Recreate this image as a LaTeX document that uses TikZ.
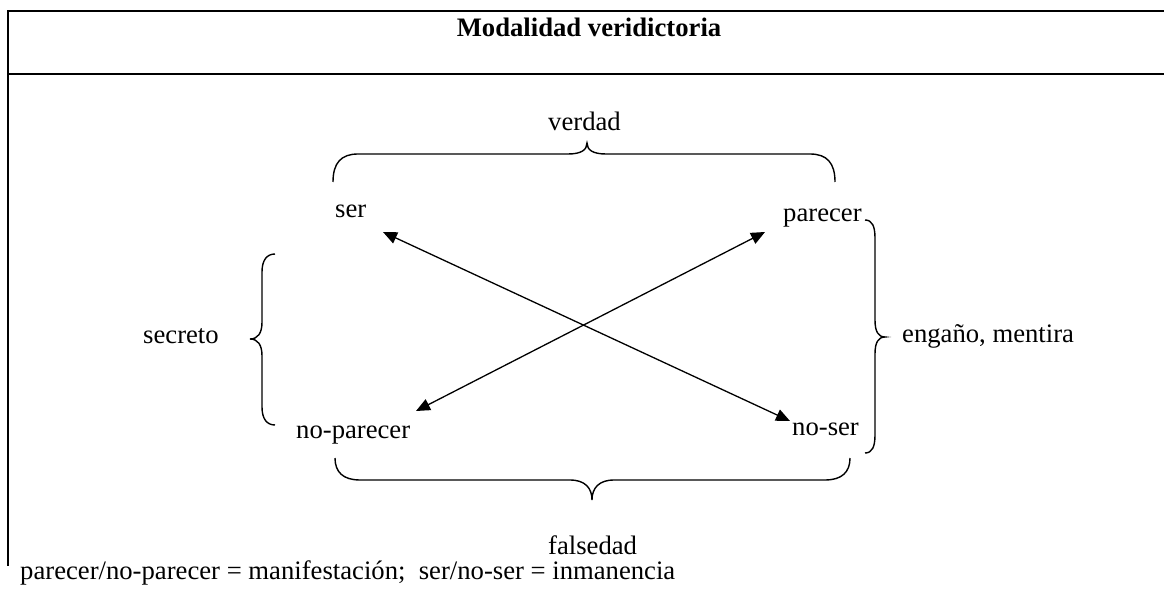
\documentclass[tikz,border=0pt]{standalone}
\usepackage{fontspec}
\setmainfont{Liberation Serif}
\usetikzlibrary{arrows.meta}
\tikzset{
  rule/.style={line width=2pt, line cap=rect},
  bracel/.style={line width=1.4pt},
  arr/.style={line width=1.3pt, {Triangle[length=14pt,width=12pt]}-{Triangle[length=14pt,width=12pt]}},
  lbl/.style={inner sep=0pt, anchor=base west, font=\fontsize{26.67}{32}\selectfont},
}
\begin{document}
\begin{tikzpicture}[x=1pt,y=-1pt]
\useasboundingbox (0,0) rectangle (1164,593);
% table frame
\draw[rule] (1164,11) -- (7.5,11) -- (7.5,565);
\draw[rule] (7.5,74) -- (1164,74);
\node[inner sep=0pt, anchor=base, font=\fontsize{26.67}{32}\selectfont\bfseries] (title) at (589,37) {Modalidad veridictoria};
% labels
\node[lbl] (verdad) at (548,131) {verdad};
\node[lbl] (ser) at (335,218) {ser};
\node[lbl] (parecer) at (783,222) {parecer};
\node[lbl] (secreto) at (143,344) {secreto};
\node[lbl] (engano) at (902,343) {engaño, mentira};
\node[lbl] (noparecer) at (296,438) {no-parecer};
\node[lbl] (noser) at (792,435) {no-ser};
\node[lbl] (falsedad) at (548,554) {falsedad};
\node[lbl] (footer) at (20,579) {parecer/no-parecer = manifestación;\ \ ser/no-ser = inmanencia};
% braces
\draw[bracel] (333,182) .. controls (333,163) and (341,154) .. (358,154) -- (568,154) .. controls (581,154) and (587,150) .. (587,143) .. controls (587,150) and (593,154) .. (606,154) -- (810,154) .. controls (827,154) and (835,163) .. (835,182);
\draw[bracel] (275,254) .. controls (267,254) and (262,260) .. (262,272) -- (262,322) .. controls (262,333) and (258,339) .. (250,339) .. controls (258,339) and (262,345) .. (262,356) -- (262,407) .. controls (262,419) and (267,425) .. (275,425);
\draw[bracel] (865,220) .. controls (872,220) and (875,226) .. (875,238) -- (875,320) .. controls (875,331) and (878,337) .. (885,337) .. controls (878,337) and (875,343) .. (875,354) -- (875,435) .. controls (875,447) and (872,453) .. (865,453);
\draw[bracel] (335,458) .. controls (335,472) and (343,480) .. (360,480) -- (570,480) .. controls (585,480) and (592,488) .. (592,500) .. controls (592,488) and (599,480) .. (614,480) -- (825,480) .. controls (842,480) and (850,472) .. (850,458);
% arrow ends
\coordinate (aUL) at (383,232);
\coordinate (aLR) at (790,421);
\coordinate (aUR) at (765,232);
\coordinate (aLL) at (416,411);
\draw[arr] (aUL) -- (aLR);
\draw[arr] (aUR) -- (aLL);
\end{tikzpicture}
\end{document}
